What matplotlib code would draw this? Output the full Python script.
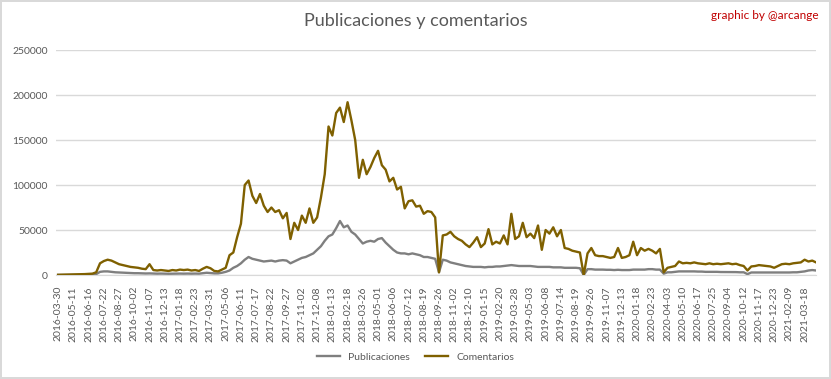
import numpy as np
import matplotlib.pyplot as plt

# one sample every 9 days (category index = sample * 9), values in thousands
comentarios = [
    0.2, 0.3, 0.4, 0.5, 0.6, 0.7, 0.8, 1.0, 1.2, 1.5,
    3.0, 13.0, 15.5, 17.0, 16.0, 14.0, 12.0, 11.0, 10.0, 9.0,
    8.5, 8.0, 7.0, 6.5, 12.0, 5.5, 5.0, 5.5, 5.0, 4.5,
    5.5, 5.0, 6.0, 5.5, 6.0, 5.0, 5.5, 4.5, 7.0, 9.0,
    7.5, 4.5, 4.0, 6.0, 8.0, 22.0, 25.0, 42.0, 57.0, 100.0,
    105.0, 88.0, 80.0, 90.0, 77.0, 70.0, 75.0, 70.0, 72.0, 63.0,
    69.0, 40.0, 58.0, 50.0, 66.0, 58.0, 74.0, 58.0, 64.0, 86.0,
    112.0, 165.0, 155.0, 180.0, 186.0, 170.0, 192.0, 172.0, 150.0, 108.0,
    128.0, 112.0, 120.0, 130.0, 138.0, 122.0, 117.0, 104.0, 108.0, 95.0,
    98.0, 74.0, 82.0, 83.0, 76.0, 77.0, 68.0, 71.0, 70.0, 64.0,
    3.0, 44.0, 45.0, 48.0, 43.0, 40.0, 38.0, 34.0, 31.0, 36.0,
    42.0, 31.0, 35.0, 51.0, 34.0, 37.0, 35.0, 44.0, 34.0, 68.0,
    40.0, 43.0, 58.0, 42.0, 46.0, 41.0, 55.0, 28.0, 50.0, 46.0,
    53.0, 43.0, 50.0, 30.0, 29.0, 27.0, 26.0, 25.0, 0.0, 24.0,
    30.0, 22.0, 21.0, 21.0, 20.0, 19.0, 20.0, 30.0, 19.0, 20.0,
    22.0, 37.0, 22.0, 30.0, 27.0, 29.0, 27.0, 24.0, 29.0, 3.0,
    8.0, 9.0, 10.0, 15.0, 13.0, 13.5, 13.0, 14.0, 13.0, 12.5,
    12.0, 13.0, 12.0, 12.5, 12.0, 12.5, 13.0, 12.0, 12.5, 11.0,
    10.0, 5.0, 9.5, 10.0, 11.0, 10.5, 10.0, 9.5, 8.0, 10.0,
    12.0, 12.5, 12.0, 13.0, 13.5, 14.0, 17.0, 15.0, 16.0, 14.0,
]
publicaciones = [
    0.1, 0.1, 0.1, 0.2, 0.2, 0.2, 0.3, 0.3, 0.4, 0.5,
    1.0, 3.5, 4.0, 4.0, 3.5, 3.0, 2.8, 2.5, 2.3, 2.2,
    2.0, 2.0, 1.8, 1.7, 1.8, 1.6, 1.5, 1.6, 1.5, 1.4,
    1.5, 1.5, 1.6, 1.5, 1.6, 1.5, 1.6, 1.5, 2.0, 2.5,
    2.2, 1.8, 1.8, 2.5, 3.5, 5.0, 8.0, 10.0, 13.0, 17.0,
    20.0, 18.0, 17.0, 16.0, 15.0, 15.5, 16.0, 15.0, 16.0, 16.5,
    16.0, 13.0, 15.0, 17.0, 19.0, 20.0, 22.0, 24.0, 28.0, 32.0,
    38.0, 43.0, 45.0, 52.0, 60.0, 53.0, 55.0, 48.0, 45.0, 40.0,
    35.0, 37.0, 38.0, 37.0, 40.0, 41.0, 36.0, 32.0, 28.0, 25.0,
    24.0, 24.0, 23.0, 24.0, 23.0, 22.0, 20.0, 20.0, 19.0, 18.0,
    3.0, 17.0, 16.0, 14.0, 13.0, 12.0, 11.0, 10.0, 9.5, 9.0,
    9.0, 9.0, 8.5, 9.0, 9.0, 9.5, 9.5, 10.0, 10.5, 11.0,
    10.5, 10.0, 10.0, 10.0, 10.0, 9.5, 9.0, 9.0, 9.0, 9.0,
    8.5, 8.5, 8.5, 8.0, 8.0, 8.0, 8.0, 7.5, 0.0, 6.5,
    6.5, 6.0, 6.0, 6.0, 5.8, 5.8, 5.5, 5.8, 5.5, 5.5,
    5.5, 6.0, 6.0, 6.0, 6.0, 6.5, 6.5, 6.0, 6.0, 1.5,
    3.0, 3.0, 3.5, 4.0, 4.0, 4.0, 4.0, 4.0, 3.8, 3.8,
    3.5, 3.5, 3.5, 3.5, 3.3, 3.3, 3.3, 3.3, 3.2, 3.0,
    3.0, 1.0, 2.8, 2.8, 2.8, 2.7, 2.7, 2.7, 2.7, 2.8,
    2.8, 2.8, 2.8, 3.0, 3.0, 3.5, 4.0, 5.0, 5.5, 5.0,
]
fechas = [
    "2016-03-30", "2016-05-11", "2016-06-16", "2016-07-22", "2016-08-27",
    "2016-10-02", "2016-11-07", "2016-12-13", "2017-01-18", "2017-02-23",
    "2017-03-31", "2017-05-06", "2017-06-11", "2017-07-17", "2017-08-22",
    "2017-09-27", "2017-11-02", "2017-12-08", "2018-01-13", "2018-02-18",
    "2018-03-26", "2018-05-01", "2018-06-06", "2018-07-12", "2018-08-19",
    "2018-09-26", "2018-11-02", "2018-12-10", "2019-01-15", "2019-02-20",
    "2019-03-28", "2019-05-03", "2019-06-08", "2019-07-14", "2019-08-19",
    "2019-09-26", "2019-11-07", "2019-12-13", "2020-01-18", "2020-02-23",
    "2020-04-03", "2020-05-10", "2020-06-17", "2020-07-25", "2020-09-04",
    "2020-10-12", "2020-11-17", "2020-12-23", "2021-02-09", "2021-03-18",
]

plt.rcParams['font.family'] = ['Lato', 'DejaVu Sans']
txt = '#595959'

x = np.arange(len(comentarios)) * 9
pub = np.array(publicaciones) * 1000
com = np.array(comentarios) * 1000

fig = plt.figure(figsize=(8.31, 3.79), dpi=100)
fig.patch.set_edgecolor('#D9D9D9')
fig.patch.set_linewidth(1.5)
ax = fig.add_axes([0.0674, 0.2744, 0.9146, 0.5936])

ax.plot(x, pub, color='#7F7F7F', lw=1.7, label='Publicaciones', zorder=3)
ax.plot(x, com, color='#7F6000', lw=1.7, label='Comentarios', zorder=4)

ax.set_ylim(0, 250000)
ax.set_xlim(-5, 1791)
ax.set_yticks(np.arange(0, 250001, 50000))
ax.set_xticks(np.arange(len(fechas)) * 36)
ax.set_xticklabels(fechas, rotation=90)
ax.tick_params(axis='both', length=0, labelsize=7.5, labelcolor=txt)
ax.tick_params(axis='x', pad=8)
ax.tick_params(axis='y', pad=6)
ax.grid(axis='y', color='#D9D9D9', lw=1)
ax.set_axisbelow(True)
for s in ['top', 'right', 'left']:
    ax.spines[s].set_visible(False)
ax.spines['bottom'].set_color('#D9D9D9')

fig.text(0.5, 0.945, 'Publicaciones y comentarios', ha='center', va='center',
         fontsize=13, color=txt)
fig.text(0.985, 0.958, 'graphic by @arcange', ha='right', va='center',
         fontsize=8.5, color='#C00000')

fig.legend(loc='center', bbox_to_anchor=(0.5, 0.058), ncol=2, frameon=False,
           fontsize=7.5, labelcolor=txt, handlelength=2.2, columnspacing=1.5)

fig.savefig('out.png', dpi=100)
